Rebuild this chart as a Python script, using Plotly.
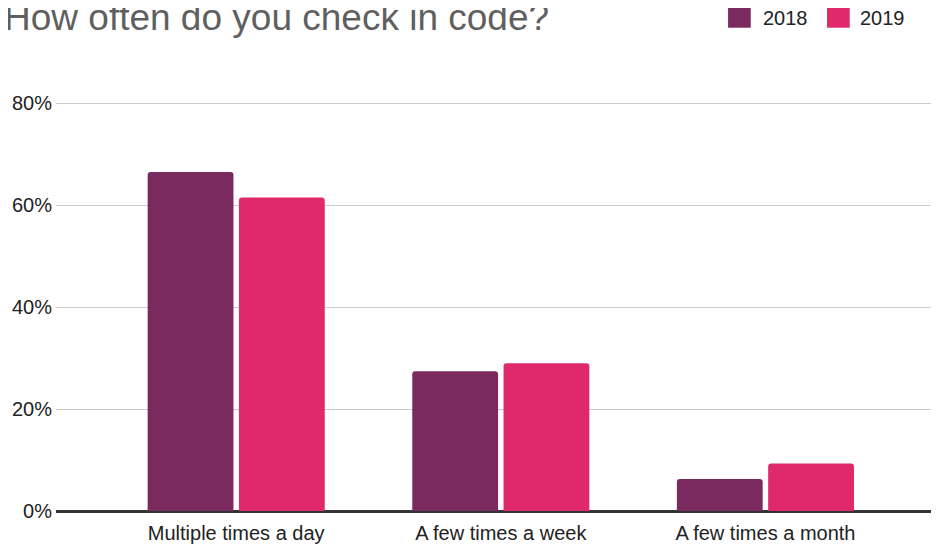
import plotly.graph_objects as go

categories = ["Multiple times a day", "A few times a week", "A few times a month"]
share_2018 = [66.5, 27.4, 6.3]
share_2019 = [61.5, 29.0, 9.3]
series_names = ["2018", "2019"]
series_colors = ["#7B2A5F", "#E0296B"]
y_ticks = [0, 20, 40, 60, 80]
y_tick_labels = ["0%", "20%", "40%", "60%", "80%"]

FONT = "Liberation Sans, Arial, Helvetica, sans-serif"

fig = go.Figure()
for name, values, color in zip(series_names, [share_2018, share_2019], series_colors):
    fig.add_trace(go.Bar(
        x=categories,
        y=values,
        name=name,
        showlegend=False,
        marker=dict(color=color, cornerradius=3, line=dict(width=0)),
    ))

# title sits partly above the top edge, so it is an annotation
fig.add_annotation(
    text="How often do you check in code?",
    font=dict(family=FONT, size=37, color="#5f5f5f"),
    xref="paper", yref="paper",
    x=-0.061, xanchor="left",
    y=1.1258, yanchor="bottom",
    showarrow=False,
)

# legend drawn by hand: big square swatches like the original
legend_boxes = [(0.7611, 0.7868), (0.8732, 0.8989)]
legend_text_x = [0.7979, 0.9085]
for (x0, x1), tx, name, color in zip(legend_boxes, legend_text_x, series_names, series_colors):
    fig.add_shape(
        type="rect", xref="paper", yref="paper",
        x0=x0, x1=x1, y0=1.1562, y1=1.2105,
        fillcolor=color, line=dict(width=0),
    )
    fig.add_annotation(
        text=name,
        font=dict(family=FONT, size=20, color="#222222"),
        xref="paper", yref="paper",
        x=tx, xanchor="left",
        y=1.1794, yanchor="middle",
        showarrow=False,
    )

fig.update_layout(
    width=939,
    height=547,
    plot_bgcolor="white",
    paper_bgcolor="white",
    font=dict(family=FONT, size=20, color="#222222"),
    showlegend=False,
    margin=dict(l=48, r=8, t=85, b=44),
    bargap=0.31,
    bargroupgap=0.06,
    xaxis=dict(
        range=[-0.681, 2.656],
        showgrid=False,
        ticks="",
        showline=False,
        automargin=False,
        ticklabelstandoff=8,
        tickfont=dict(size=20, color="#222222"),
    ),
    yaxis=dict(
        range=[0, 82],
        tickvals=y_ticks,
        ticktext=y_tick_labels,
        showgrid=True,
        gridcolor="#cccccc",
        gridwidth=1,
        zeroline=True,
        zerolinecolor="#333333",
        zerolinewidth=2.5,
        ticks="",
        automargin=False,
        ticklabelstandoff=3,
        tickfont=dict(size=20, color="#222222"),
    ),
)

fig.write_html("out.html")
